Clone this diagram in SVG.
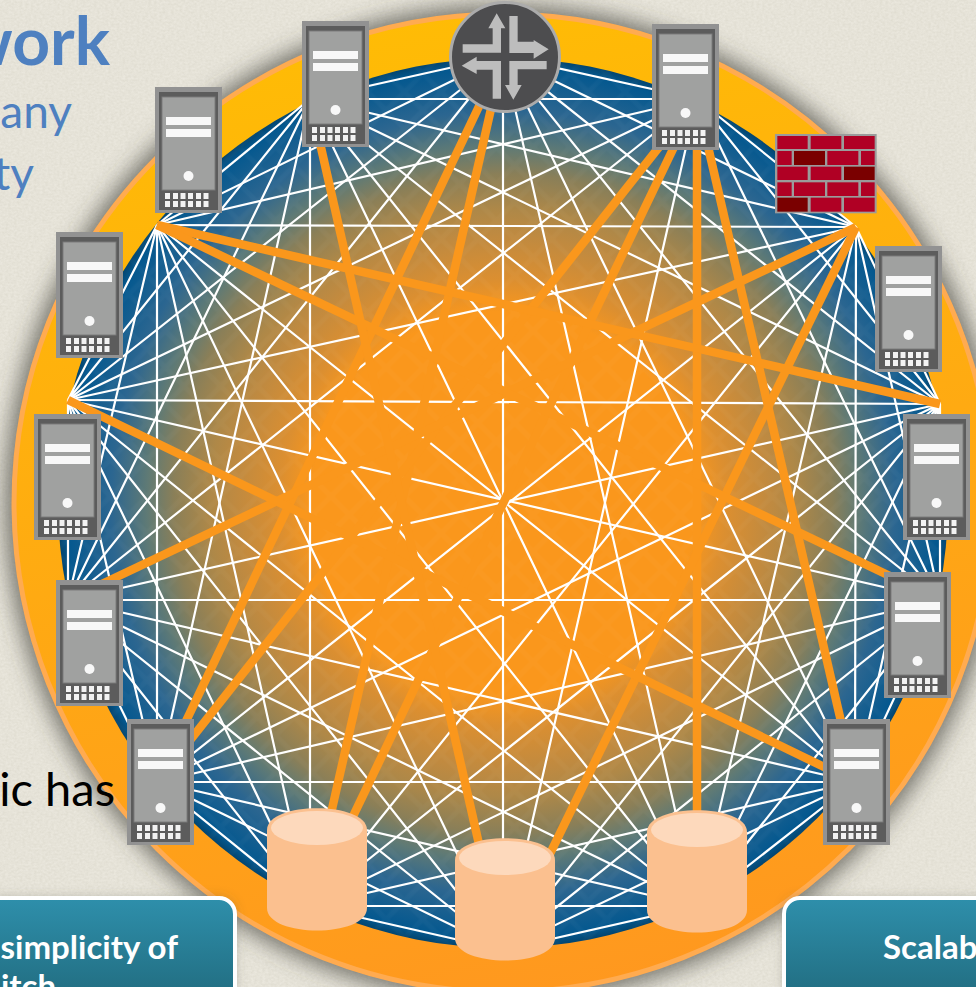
<svg xmlns="http://www.w3.org/2000/svg" width="976" height="987" viewBox="0 0 976 987">
<style>
.w{fill:none;stroke:#fff;stroke-width:2.200}
.o{fill:none;stroke:#FA971C;stroke-width:8.500}
.lato{font-family:Lato,"Open Sans","Liberation Sans",sans-serif}
.b{fill:#B00024}.d{fill:#7A0000}
.t{font-weight:700;font-size:33px;fill:#fff}
.h{fill:#4E80C0}
.g{fill:#F2F2F2}
</style>
<defs>
<filter id="tex" x="0" y="0" width="100%" height="100%"><feTurbulence type="fractalNoise" baseFrequency="0.35 0.5" numOctaves="2" seed="4"/><feColorMatrix values="0 0 0 0 .5  0 0 0 0 .48  0 0 0 0 .38  0 0 0 .35 -.08"/></filter>
<filter id="sh" x="-10%" y="-10%" width="120%" height="120%"><feGaussianBlur stdDeviation="11"/></filter>
<filter id="sh2" x="-20%" y="-20%" width="140%" height="140%"><feGaussianBlur stdDeviation="6"/></filter>
<filter id="soft" x="-5%" y="-5%" width="110%" height="110%"><feGaussianBlur stdDeviation="0.5"/></filter>
<linearGradient id="ring" gradientUnits="userSpaceOnUse" x1="400" y1="12" x2="600" y2="990"><stop offset="0" stop-color="#FFBC05"/><stop offset="1" stop-color="#FF981F"/></linearGradient>
<radialGradient id="disk" gradientUnits="userSpaceOnUse" cx="503" cy="503" r="445">
<stop offset="0" stop-color="#FA971C"/><stop offset=".43" stop-color="#FA971C"/><stop offset=".5" stop-color="#DC8F30"/><stop offset=".6" stop-color="#C08A40"/><stop offset=".66" stop-color="#AE8848"/><stop offset=".74" stop-color="#8A7F58"/><stop offset=".8" stop-color="#5F7A75"/><stop offset=".88" stop-color="#2C6690"/><stop offset=".98" stop-color="#04588F"/><stop offset="1" stop-color="#03456F"/></radialGradient>
<linearGradient id="teal" x1="0" y1="0" x2="0" y2="1"><stop offset="0" stop-color="#2E8FAB"/><stop offset="1" stop-color="#1F6678"/></linearGradient>
<pattern id="hatch" width="26" height="26" patternUnits="userSpaceOnUse" patternTransform="rotate(45)"><path d="M13 0V26M0 13H26" stroke="#fff" stroke-opacity=".025" stroke-width="5" fill="none"/></pattern>
<g id="server" filter="url(#soft)">
<rect width="67" height="126" fill="#929292"/>
<rect x="4" y="5" width="59" height="118" fill="#5B5B5B"/>
<rect x="7" y="10" width="53" height="93" fill="#A0A1A0" stroke="#7C7C7C" stroke-width="1"/>
<rect x="11" y="30" width="45" height="8" fill="#F8F8F8"/>
<rect x="11" y="42" width="45" height="8" fill="#F8F8F8"/>
<circle cx="33.5" cy="89" r="5" fill="#F8F8F8"/>
<path class="g" d="M10 106h5v6h-5zM18 106h5v6h-5zM25.500 106h5v6h-5zM33 106h5v6h-5zM41 106h5v6h-5zM48.500 106h5v6h-5zM10 114h5v6h-5zM18 114h5v6h-5zM25.500 114h5v6h-5zM33 114h5v6h-5zM41 114h5v6h-5zM48.500 114h5v6h-5z"/>
</g>
<g id="cyl">
<path d="M0 22C0 -7 100 -7 100 22V100C100 130 0 130 0 100Z" fill="#FBC08F"/>
<ellipse cx="50" cy="20" rx="46" ry="17" fill="#FDD9BC"/>
</g>
</defs>

<rect id="background" width="976" height="987" fill="#EAE7DD"/>
<rect width="976" height="987" filter="url(#tex)"/>

<g id="ring-base">
<circle cx="503" cy="503" r="498" fill="#45423a" fill-opacity=".7" filter="url(#sh)"/>
<circle cx="503" cy="503" r="489" fill="url(#ring)" stroke="#FFAB50" stroke-width="5"/>
<circle cx="503" cy="503" r="445" fill="url(#disk)"/>
<circle cx="503" cy="503" r="445" fill="url(#hatch)"/>
</g>

<g id="text-left" class="lato">
<text class="h" x="110" y="65" text-anchor="end" font-size="66" font-weight="700">work</text>
<text class="h" x="72" y="128" text-anchor="end" font-size="46">any</text>
<text class="h" x="34" y="190" text-anchor="end" font-size="46">ty</text>
<text x="115" y="806" text-anchor="end" font-size="47" fill="#000">ic has</text>
</g>

<g id="connectors">
<g id="mesh" class="w">
<path d="M503 56L697 99M503 56L856 227M503 56L940 404M503 56L940 600M503 56L855 782M503 56L697 906M503 56L503 950M503 56L68 600M503 56L68 400M503 56L157 225M503 56L310 99"/>
<path d="M697 99L856 227M697 99L940 404M697 99L940 600M697 99L503 950M697 99L68 600M697 99L68 400M697 99L157 225M697 99L310 99"/>
<path d="M856 227L940 404M856 227L940 600M856 227L855 782M856 227L697 906M856 227L310 906M856 227L157 782M856 227L68 400M856 227L157 225M856 227L310 99"/>
<path d="M940 404L940 600M940 404L855 782M940 404L697 906M940 404L503 950M940 404L310 906M940 404L157 782M940 404L68 600M940 404L68 400M940 404L310 99"/>
<path d="M940 600L855 782M940 600L697 906M940 600L503 950M940 600L310 906M940 600L157 782M940 600L68 600M940 600L68 400M940 600L310 99"/>
<path d="M855 782L697 906M855 782L503 950M855 782L310 906M855 782L157 782M855 782L68 600M855 782L157 225M855 782L310 99"/>
<path d="M697 906L503 950M697 906L310 906M697 906L157 782M697 906L68 600M697 906L68 400M697 906L157 225M697 906L310 99"/>
<path d="M503 950L310 906M503 950L157 782M503 950L68 600M503 950L68 400M503 950L157 225"/>
<path d="M310 906L157 782M310 906L68 600M310 906L68 400M310 906L157 225M310 906L310 99"/>
<path d="M157 782L68 600M157 782L68 400M157 782L157 225M157 782L310 99"/>
<path d="M68 600L68 400M68 600L157 225M68 600L310 99"/>
<path d="M68 400L157 225M68 400L310 99"/>
<path d="M157 225L310 99"/>
</g>
<g id="links" class="o">
<path d="M503 56L157 782"/>
<path d="M503 56L310 906"/>
<path d="M697 99L157 782"/>
<path d="M697 99L310 906"/>
<path d="M697 99L697 906"/>
<path d="M697 99L855 782"/>
<path d="M856 227L68 600"/>
<path d="M856 227L503 950"/>
<path d="M940 404L157 225"/>
<path d="M940 600L157 225"/>
<path d="M855 782L68 400"/>
<path d="M503 950L310 99"/>
</g>
</g>

<g id="node-router">
<circle cx="505" cy="57" r="54.500" fill="#4D4D4F" stroke="#ABABAB" stroke-width="3"/>
<g transform="translate(440 0) scale(.33333)" fill="#BDBDBD">
<polygon points="68,133 68,158 183,158 183,85 196,85 170,40 145,85 158,85 158,133"/>
<polygon points="208,48 233,48 233,125 281,125 281,120 326,148 281,176 281,159 208,159"/>
<polygon points="183,296 158,296 158,209 110,209 110,222 65,197 110,170 110,183 183,183"/>
<polygon points="320,183 320,208 233,208 233,255 245,255 220,299 195,255 208,255 208,183"/>
</g>
</g>

<g id="node-firewall" transform="translate(770 125) scale(.33333)">
<rect x="15" y="27" width="305" height="238" fill="#9B9B9B"/>
<rect class="b" x="22" y="33" width="91" height="39"/><rect class="b" x="122" y="33" width="92" height="39"/><rect class="b" x="222" y="33" width="92" height="39"/>
<rect class="b" x="22" y="78" width="43" height="42"/><rect class="d" x="72" y="78" width="93" height="42"/><rect class="b" x="172" y="78" width="93" height="42"/><rect class="b" x="273" y="78" width="41" height="42"/>
<rect class="b" x="22" y="125" width="91" height="40"/><rect class="b" x="122" y="125" width="92" height="40"/><rect class="d" x="222" y="125" width="92" height="40"/>
<rect class="b" x="22" y="172" width="43" height="41"/><rect class="b" x="72" y="172" width="93" height="41"/><rect class="b" x="172" y="172" width="93" height="41"/><rect class="b" x="273" y="172" width="41" height="41"/>
<rect class="d" x="22" y="218" width="91" height="42"/><rect class="b" x="122" y="218" width="92" height="42"/><rect class="b" x="222" y="218" width="92" height="42"/>
</g>

<g id="node-server-1"><use href="#server" x="302" y="21"/></g>
<g id="node-server-2"><use href="#server" x="155" y="87"/></g>
<g id="node-server-3"><use href="#server" x="56" y="232"/></g>
<g id="node-server-4"><use href="#server" x="34" y="414"/></g>
<g id="node-server-5"><use href="#server" x="56" y="580"/></g>
<g id="node-server-6"><use href="#server" x="127" y="719"/></g>
<g id="node-server-7"><use href="#server" x="652" y="24"/></g>
<g id="node-server-8"><use href="#server" x="875" y="246"/></g>
<g id="node-server-9"><use href="#server" x="903" y="414"/></g>
<g id="node-server-10"><use href="#server" x="884" y="572"/></g>
<g id="node-server-11"><use href="#server" x="823" y="719"/></g>

<g id="node-db-1"><use href="#cyl" x="267" y="808"/></g>
<g id="node-db-2"><use href="#cyl" x="455" y="838"/></g>
<g id="node-db-3"><use href="#cyl" x="647" y="810"/></g>

<g id="box-left">
<rect x="-30" y="898" width="265" height="120" rx="16" fill="#55524a" fill-opacity=".35" filter="url(#sh2)"/>
<rect x="-30" y="898" width="265" height="120" rx="16" fill="url(#teal)" stroke="#fff" stroke-width="4"/>
<text class="lato t" x="178" y="959" text-anchor="end">simplicity of</text>
<text class="lato t" x="56" y="998" text-anchor="end">itch</text>
</g>
<g id="box-right">
<rect x="784" y="898" width="240" height="120" rx="16" fill="#55524a" fill-opacity=".35" filter="url(#sh2)"/>
<rect x="784" y="898" width="240" height="120" rx="16" fill="url(#teal)" stroke="#fff" stroke-width="4"/>
<text class="lato t" x="883" y="959">Scalab</text>
</g>
</svg>
